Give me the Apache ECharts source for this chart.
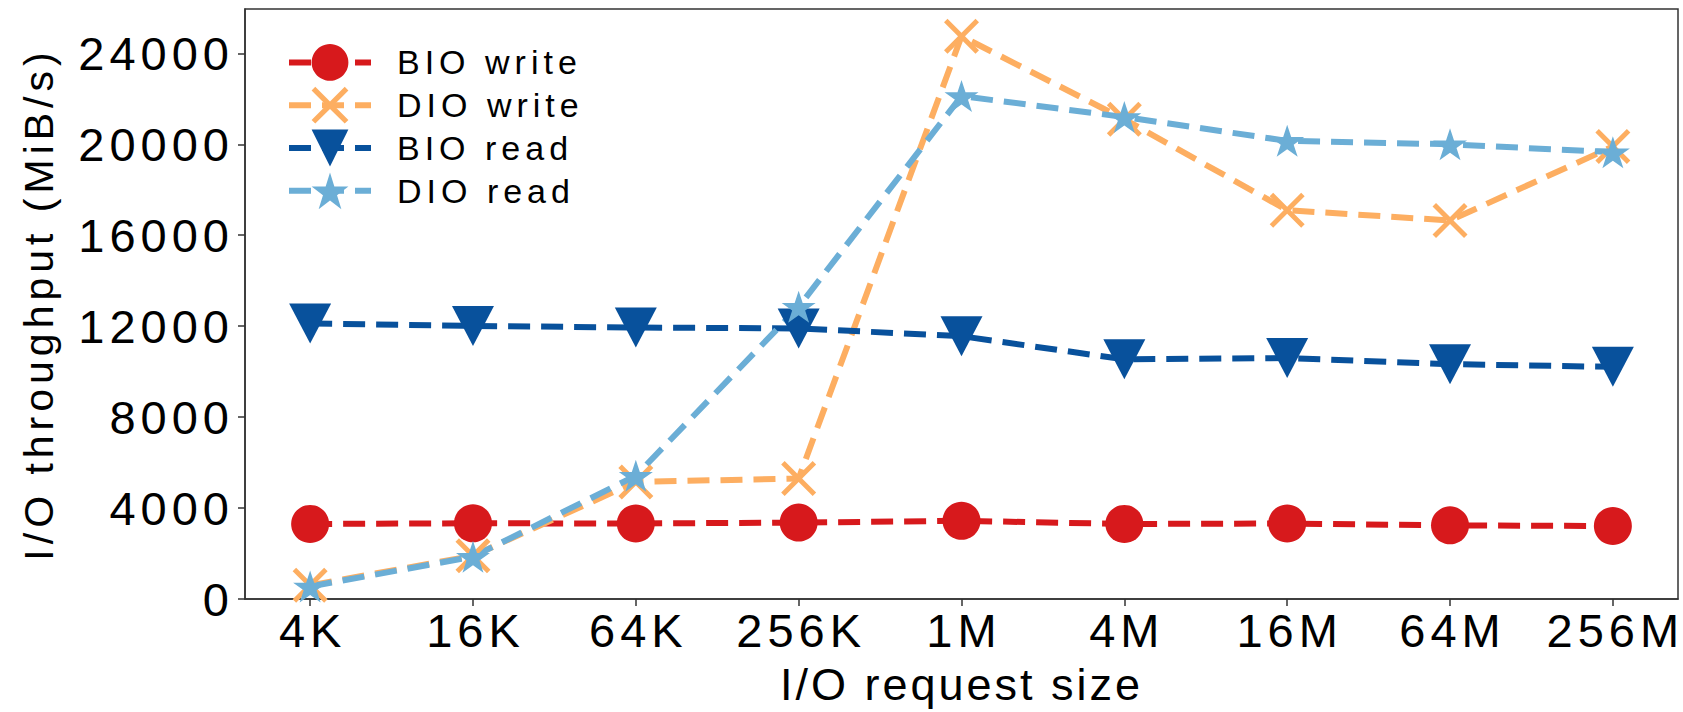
<!DOCTYPE html>
<html>
<head>
<meta charset="utf-8">
<script src="https://cdn.jsdelivr.net/npm/echarts@6/dist/echarts.min.js"></script>
<style>
  html, body { margin: 0; padding: 0; background: #fff; }
  #chart { width: 1683px; height: 712px; }
  /* the source's matplotlib text is spaced wider than Liberation Sans */
  #chart text { letter-spacing: 3px; }
  #chart text[style*="47px"] { letter-spacing: 5px; }
  #chart text[style*="41px"] { letter-spacing: 5px; }
  #chart text[style*="34px"] { letter-spacing: 5px; }
</style>
</head>
<body>
<div id="chart"></div>
<script>
const xLabels = ["4K", "16K", "64K", "256K", "1M", "4M", "16M", "64M", "256M"];
const yTicks = [0, 4000, 8000, 12000, 16000, 20000, 24000];

const bioWrite = [3300, 3330, 3320, 3360, 3440, 3300, 3320, 3240, 3210];
const dioWrite = [600, 1900, 5150, 5300, 24750, 21100, 17100, 16650, 19900];
const bioRead = [12120, 12010, 11940, 11900, 11560, 10540, 10600, 10330, 10210];
const dioRead = [550, 1860, 5420, 12850, 22120, 21200, 20150, 20000, 19650];

// marker shapes (matplotlib '*', 'x', 'v')
const STAR = "path://M50,0 L61.23,34.55 L97.55,34.55 L68.17,55.9 L79.39,90.45 L50,69.1 L20.61,90.45 L31.83,55.9 L2.45,34.55 L38.77,34.55 Z";
const CROSS = "path://M0,10 L10,0 L50,40 L90,0 L100,10 L60,50 L100,90 L90,100 L50,60 L10,100 L0,90 L40,50 Z";
const TRI_DOWN = "path://M0,0 L100,0 L50,100 Z";

const FONT = "'Liberation Sans', Arial, sans-serif";
const DASH = [22, 11];
const tickIdx = xLabels.map((_, i) => i);

function makeSeries(name, values, color, symbol, size) {
  return {
    name,
    type: "line",
    data: values.map((v, i) => [i, v]),
    symbol,
    symbolSize: size,
    itemStyle: { color },
    lineStyle: { color, width: 6, type: DASH },
    emphasis: { disabled: true },
  };
}

const chart = echarts.init(document.getElementById("chart"), null, { renderer: "svg" });

chart.setOption({
  animation: false,
  grid: {
    left: 245, right: 5, top: 9, bottom: 113,
    show: true, borderColor: "#333", borderWidth: 1.5, backgroundColor: "transparent",
  },
  legend: {
    orient: "vertical",
    left: 281,
    top: 39,
    itemWidth: 82,
    itemHeight: 46,
    itemGap: 6,
    selectedMode: false,
    lineStyle: { width: 6, type: DASH },
    formatter: (name) => "{g|}" + name,
    textStyle: {
      fontFamily: FONT, fontSize: 34, color: "#000",
      rich: { g: { width: 21 } },
    },
  },
  xAxis: {
    type: "value",
    min: -0.4,
    max: 8.4,
    name: "I/O request size",
    nameLocation: "middle",
    nameGap: 63,
    nameTextStyle: { fontFamily: FONT, fontSize: 45, color: "#000" },
    axisLine: { show: true, onZero: false, lineStyle: { color: "#333", width: 1.5 } },
    axisTick: { show: true, length: 7, customValues: tickIdx, lineStyle: { color: "#333", width: 1.5 } },
    axisLabel: {
      customValues: tickIdx,
      formatter: (v) => xLabels[v],
      fontFamily: FONT, fontSize: 47, color: "#000", margin: 8,
      padding: [0, 0, 0, 5],
    },
    splitLine: { show: false },
  },
  yAxis: {
    type: "value",
    min: 0,
    max: 25950,
    name: "I/O throughput (MiB/s)",
    nameLocation: "middle",
    nameGap: 186,
    nameTextStyle: { fontFamily: FONT, fontSize: 41, color: "#000" },
    axisLine: { show: true, onZero: false, lineStyle: { color: "#333", width: 1.5 } },
    axisTick: { show: true, length: 7, customValues: yTicks, lineStyle: { color: "#333", width: 1.5 } },
    axisLabel: {
      customValues: yTicks,
      formatter: (v) => String(v),
      fontFamily: FONT, fontSize: 47, color: "#000", margin: 11,
    },
    splitLine: { show: false },
  },
  series: [
    makeSeries("BIO write", bioWrite, "#d7191c", "circle", 38),
    makeSeries("DIO write", dioWrite, "#fdae61", CROSS, 35),
    makeSeries("BIO read", bioRead, "#08519c", TRI_DOWN, [42, 40]),
    makeSeries("DIO read", dioRead, "#6baed6", STAR, [34, 32]),
  ],
});
</script>
</body>
</html>
